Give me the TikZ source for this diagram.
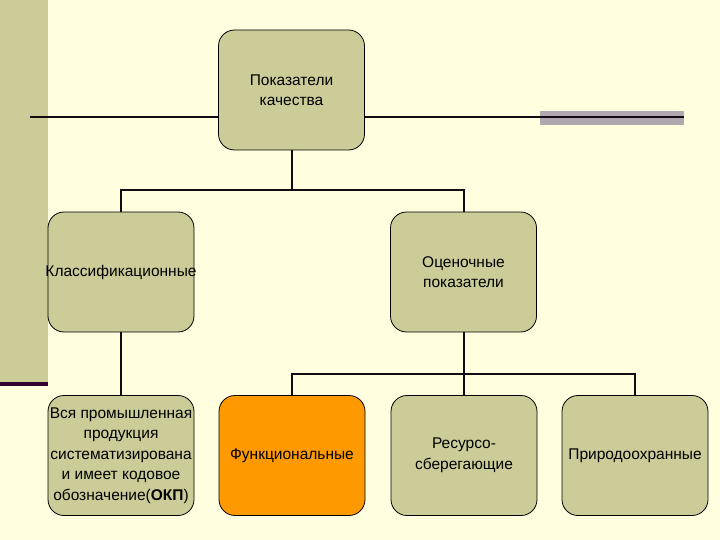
\documentclass[tikz,border=0pt]{standalone}
\usepackage{fontspec}
\setmainfont{Liberation Sans}
\definecolor{bgc}{RGB}{255,255,224}
\definecolor{olivec}{RGB}{204,204,153}
\definecolor{purplec}{RGB}{51,0,51}
\definecolor{grayc}{RGB}{176,168,174}
\definecolor{orangec}{RGB}{255,153,0}
\definecolor{linec}{RGB}{20,10,20}
\begin{document}
\begin{tikzpicture}[x=1pt,y=-1pt,
  box/.style={draw=black, line width=0.8pt, rounded corners=16pt, fill=olivec,
    minimum width=146pt, minimum height=120pt, inner sep=0pt, align=center,
    font=\fontsize{15.5}{20.5}\selectfont},
  link/.style={line width=2pt, draw=linec}]
\useasboundingbox (0,0) rectangle (720,540);
\fill[bgc] (0,0) rectangle (720,540);
% decorations
\fill[olivec] (0,0) rectangle (48,382);
\fill[purplec] (0,382) rectangle (48,386);
\fill[grayc] (540,111) rectangle (684,125);
\draw[link] (30,117.5) -- (684,117.5);
% nodes
\node[box] (top) at (291.5,90) {Показатели\\качества};
\node[box] (kl) at (121,272) {\makebox[0pt]{Классификационные}};
\node[box] (oc) at (463.5,272) {Оценочные\\показатели};
\node[box] (vs) at (121,455.5) {\makebox[0pt]{Вся промышленная}\\\makebox[0pt]{продукция}\\\makebox[0pt]{систематизирована}\\\makebox[0pt]{и имеет кодовое}\\\makebox[0pt]{обозначение(\textbf{ОКП})}};
\node[box, fill=orangec] (fn) at (292,455.5) {\makebox[0pt]{Функциональные}};
\node[box] (rs) at (464,455.5) {Ресурсо-\\сберегающие};
\node[box] (pr) at (635,455.5) {\makebox[0pt]{Природоохранные}};
% connectors
\coordinate (b1) at ([yshift=-40pt]top.south);
\coordinate (b2) at ([yshift=-42pt]oc.south);
\draw[link] (top.south) -- (b1);
\draw[link] (kl.north) |- (b1) -| (oc.north);
\draw[link] (kl.south) -- (vs.north);
\draw[link] (oc.south) -- (b2);
\draw[link] (fn.north) |- (b2) -| (pr.north);
\draw[link] (rs.north) -- (rs.north |- b2);
\end{tikzpicture}
\end{document}
